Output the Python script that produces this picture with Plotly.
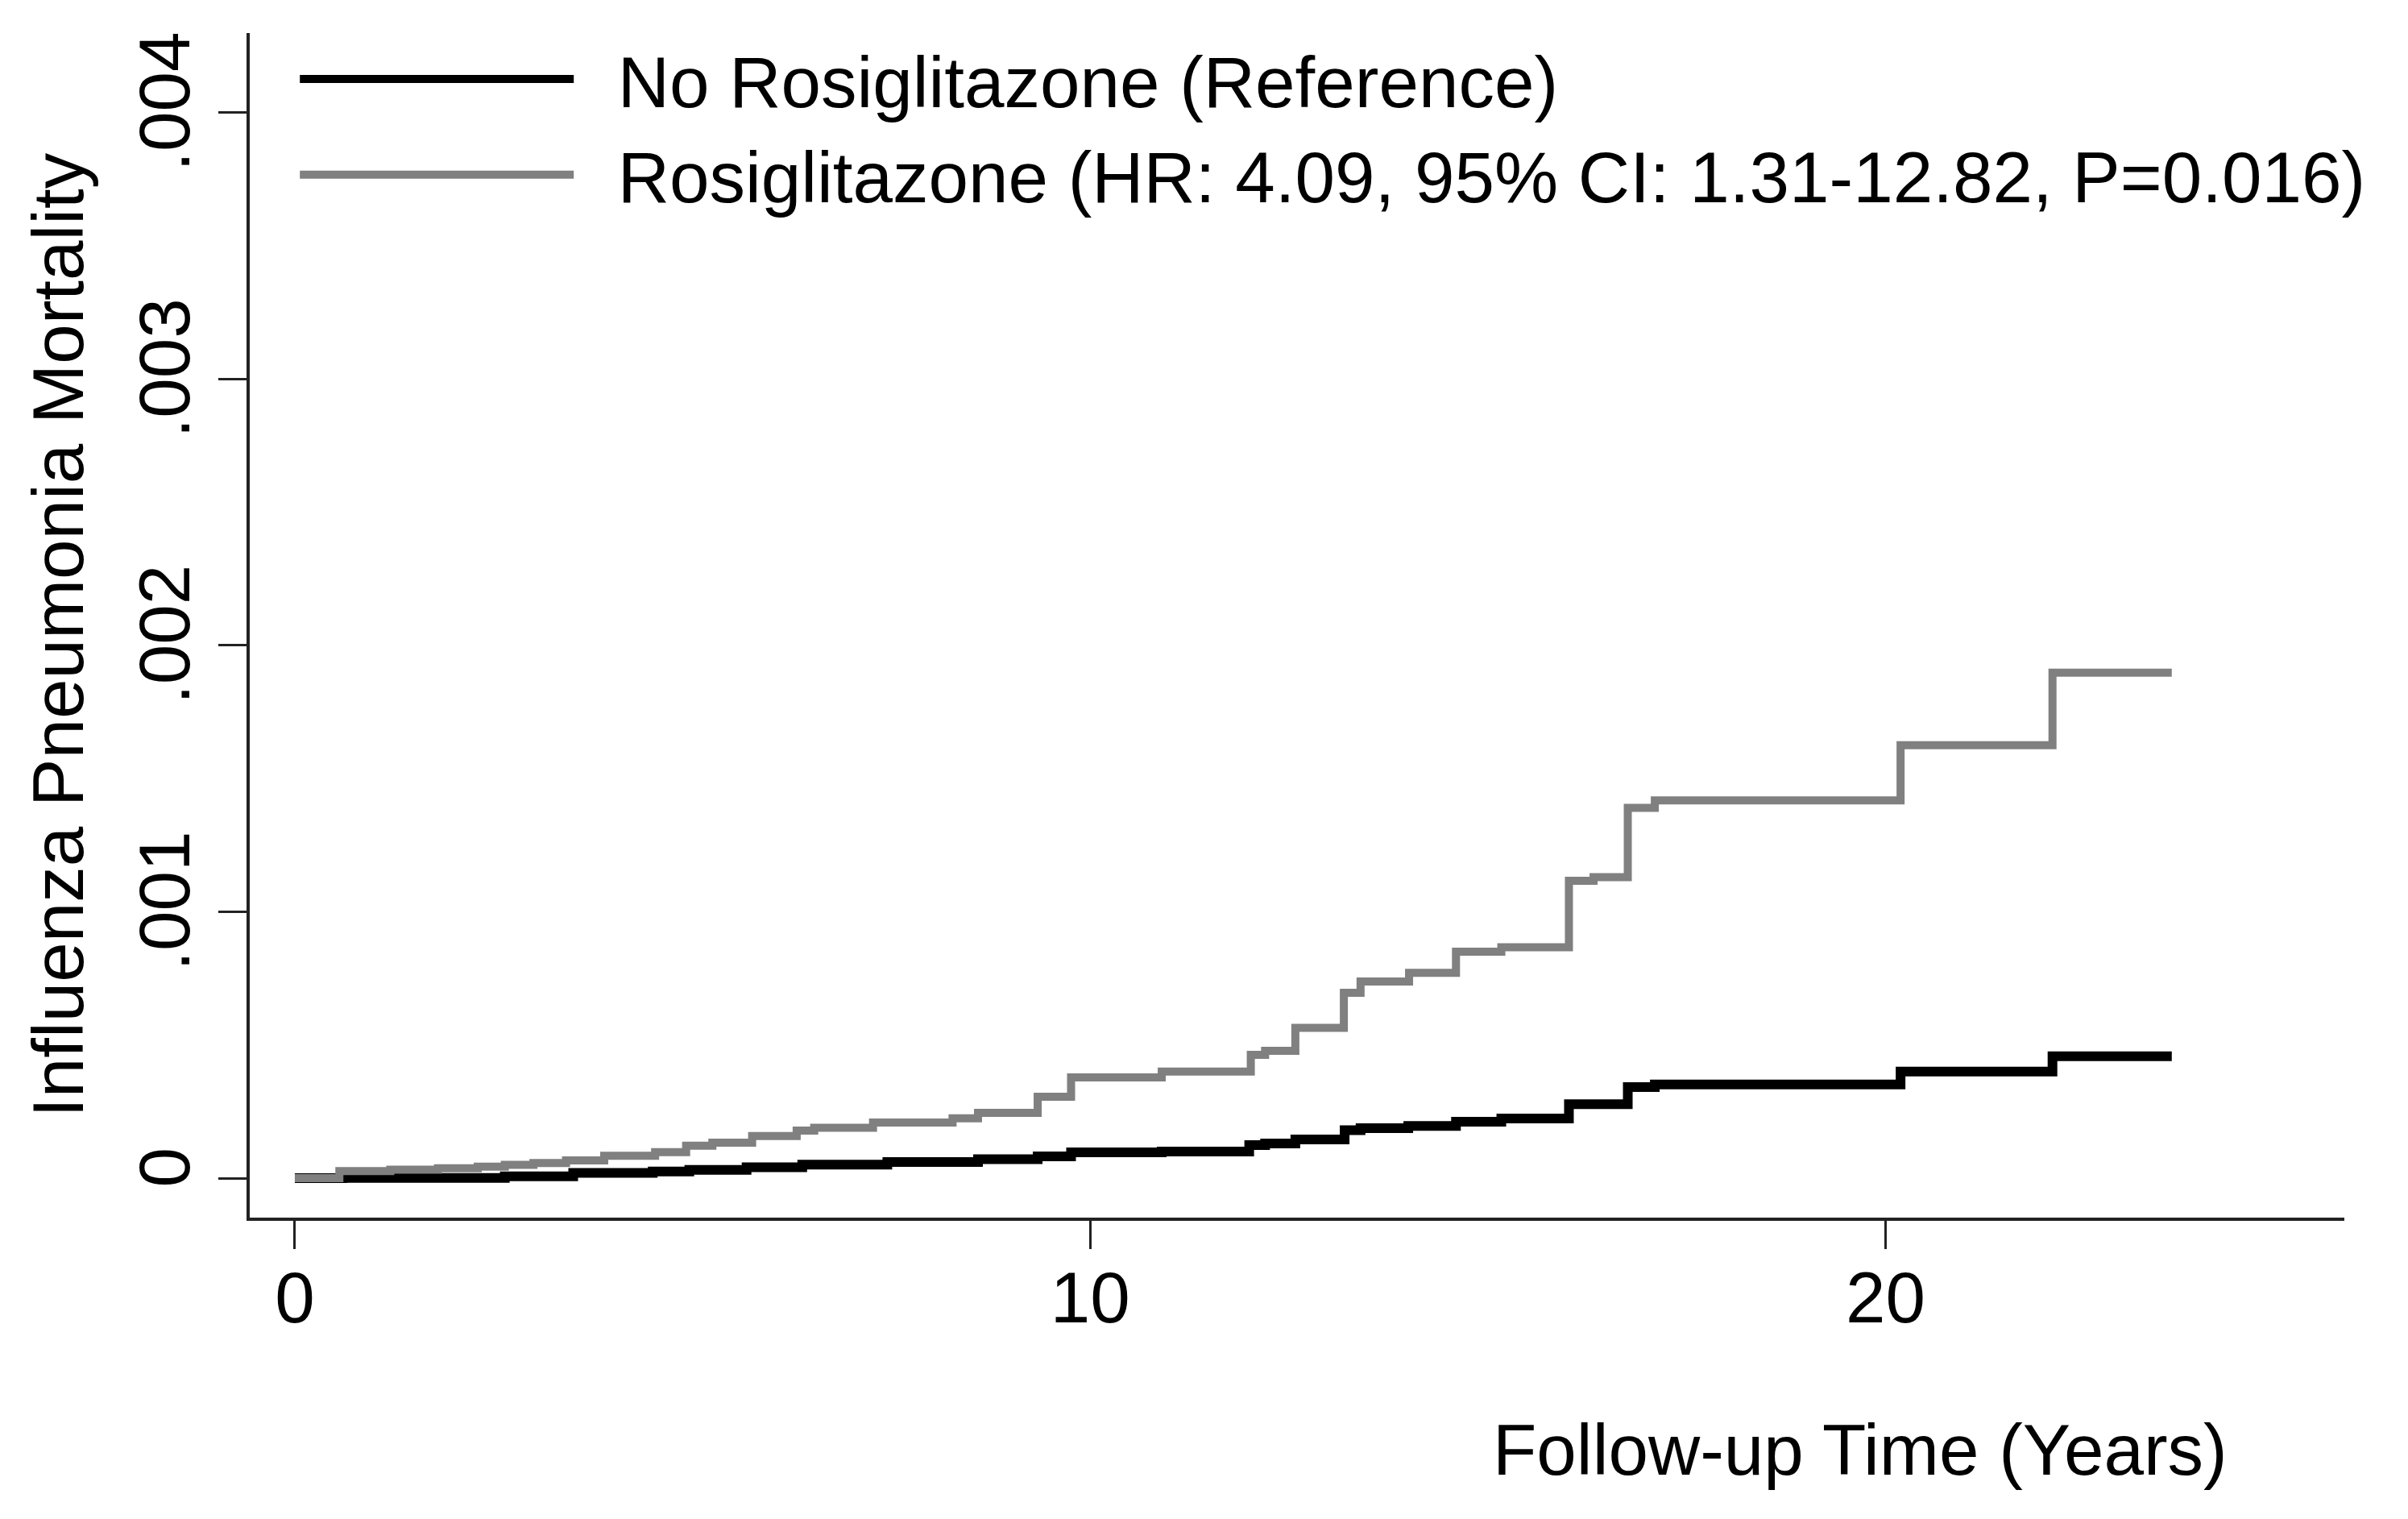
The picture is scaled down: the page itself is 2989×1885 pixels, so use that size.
import plotly.graph_objects as go

# Follow-up time (years) at each step and the cumulative mortality from that time on
ref_time = [0, 0.6, 2.64, 3.5, 4.5, 4.96, 5.68, 6.38, 7.45, 8.59, 9.34, 9.76, 10.9,
            12.0, 12.2, 12.58, 13.2, 13.4, 14.0, 14.6, 15.17, 16.02, 16.76, 17.1,
            20.19, 22.1, 23.6]
ref_mort = [0, 0.000001, 0.000007, 0.00002, 0.000025, 0.000031, 0.000041, 0.000051,
            0.000061, 0.000071, 0.000082, 0.000097, 0.0001, 0.000124, 0.00013, 0.000145,
            0.00018, 0.000188, 0.000196, 0.000212, 0.000224, 0.000278, 0.000342, 0.000352,
            0.0004, 0.000458, 0.000458]

rosi_time = [0, 0.56, 1.2, 1.8, 2.3, 2.64, 3.0, 3.41, 3.89, 4.53, 4.92, 5.25, 5.75,
             6.31, 6.53, 7.27, 8.27, 8.59, 9.34, 9.76, 10.9, 12.02, 12.2, 12.58, 13.19,
             13.4, 14.01, 14.6, 15.17, 16.02, 16.33, 16.76, 17.1, 20.19, 22.1, 23.6]
rosi_mort = [0, 0.000027, 0.000032, 0.000037, 0.000043, 0.00005, 0.000057, 0.000067,
             0.000084, 0.000098, 0.000122, 0.000133, 0.000158, 0.000179, 0.000189,
             0.000209, 0.000225, 0.000245, 0.000306, 0.000378, 0.0004, 0.000463, 0.000478,
             0.000564, 0.000696, 0.000738, 0.000771, 0.00085, 0.000867, 0.001116, 0.00113,
             0.00139, 0.001418, 0.001625, 0.001897, 0.001897]

x_ticks = [0, 10, 20]
x_tick_labels = ["0", "10", "20"]
y_ticks = [0, 0.001, 0.002, 0.003, 0.004]
y_tick_labels = ["0", ".001", ".002", ".003", ".004"]

ref_name = "No Rosiglitazone (Reference)"
rosi_name = "Rosiglitazone (HR: 4.09, 95% CI: 1.31-12.82, P=0.016)"
x_title = "Follow-up Time (Years)"
y_title = "Influenza Pneumonia Mortality"

FONT = "Liberation Sans, Arial, sans-serif"
FS = 89
GAP = "\u00a0\u00a0"

fig = go.Figure()
fig.add_trace(go.Scatter(x=ref_time, y=ref_mort, mode="lines", name=GAP + ref_name,
                         line=dict(color="#000000", width=12, shape="hv")))
fig.add_trace(go.Scatter(x=rosi_time, y=rosi_mort, mode="lines", name=GAP + rosi_name,
                         line=dict(color="#808080", width=10, shape="hv")))

fig.update_layout(
    width=2989, height=1885,
    margin=dict(l=302, r=87, t=33, b=382),
    paper_bgcolor="white", plot_bgcolor="white",
    font=dict(family=FONT, size=FS, color="black"),
    showlegend=True,
    legend=dict(x=0.022, y=1.005, xanchor="left", yanchor="top",
                bgcolor="rgba(0,0,0,0)", borderwidth=0,
                itemwidth=340, font=dict(family=FONT, size=FS, color="black"),
                tracegroupgap=0),
    xaxis=dict(range=[-0.567, 25.77], tickmode="array", tickvals=x_ticks,
               ticktext=x_tick_labels, showline=True, linecolor="#222222", linewidth=4,
               ticks="outside", ticklen=35, tickwidth=3, tickcolor="#222222",
               showgrid=False, zeroline=False, tickfont=dict(size=FS),
               ticklabelstandoff=-16),
    yaxis=dict(range=[-0.000148, 0.004298], tickmode="array", tickvals=y_ticks,
               ticktext=y_tick_labels, showline=True, linecolor="#222222", linewidth=4,
               ticks="outside", ticklen=35, tickwidth=3, tickcolor="#222222",
               showgrid=False, zeroline=False, tickangle=-90, tickfont=dict(size=FS)),
    annotations=[
        dict(text=x_title, xref="paper", yref="paper", x=0.769, y=-0.196,
             xanchor="center", yanchor="middle", showarrow=False,
             font=dict(family=FONT, size=FS, color="black")),
        dict(text=y_title, xref="paper", yref="paper", x=-0.0915, y=0.492,
             xanchor="center", yanchor="middle", showarrow=False, textangle=-90,
             font=dict(family=FONT, size=FS, color="black")),
    ],
)

fig.write_html("out.html")
